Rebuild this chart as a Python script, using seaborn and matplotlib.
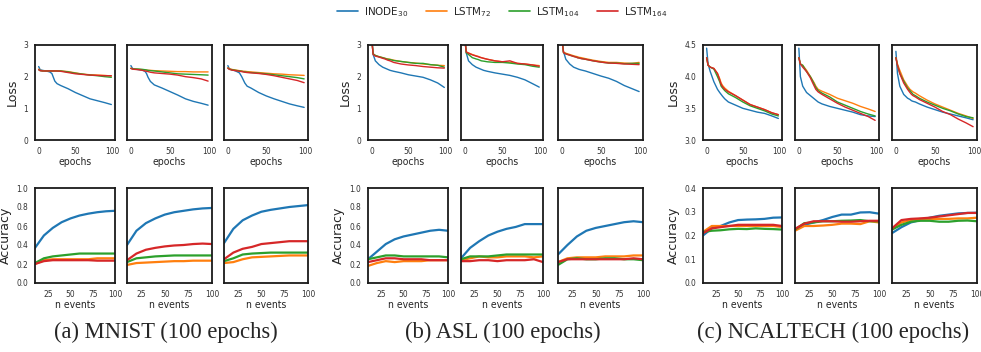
import numpy as np
import pandas as pd
import matplotlib
matplotlib.use('Agg')
import matplotlib.pyplot as plt
import seaborn as sns
sns.set_style('white')

# shared x values
epochs = [0, 2, 5, 10, 15, 18, 20, 22, 25, 30, 40, 50, 60, 70, 80, 90, 99]
n_events = [10, 20, 30, 40, 50, 60, 70, 80, 90, 100]

models = ['INODE$_{30}$', 'LSTM$_{72}$', 'LSTM$_{104}$', 'LSTM$_{164}$']
captions = ['(a) MNIST (100 epochs)', '(b) ASL (100 epochs)', '(c) NCALTECH (100 epochs)']

# ---- MNIST loss (3 runs each)
mnist_loss_inode = [
    [2.32, 2.22, 2.2, 2.18, 2.15, 2.1, 1.98, 1.86, 1.78, 1.72, 1.62, 1.5, 1.4, 1.3, 1.24, 1.18, 1.12],
    [2.35, 2.26, 2.24, 2.22, 2.2, 2.17, 2.1, 1.98, 1.85, 1.74, 1.64, 1.53, 1.42, 1.3, 1.22, 1.16, 1.1],
    [2.35, 2.24, 2.22, 2.18, 2.12, 2.0, 1.9, 1.8, 1.7, 1.64, 1.5, 1.39, 1.3, 1.22, 1.14, 1.08, 1.03]]
mnist_loss_l72 = [
    [2.24, 2.2, 2.19, 2.18, 2.18, 2.18, 2.18, 2.18, 2.18, 2.18, 2.16, 2.12, 2.08, 2.06, 2.05, 2.04, 2.02],
    [2.27, 2.25, 2.24, 2.23, 2.22, 2.22, 2.21, 2.2, 2.2, 2.19, 2.18, 2.17, 2.16, 2.16, 2.15, 2.15, 2.15],
    [2.28, 2.25, 2.23, 2.21, 2.19, 2.18, 2.17, 2.17, 2.16, 2.15, 2.13, 2.11, 2.09, 2.08, 2.06, 2.05, 2.04]]
mnist_loss_l104 = [
    [2.22, 2.19, 2.18, 2.18, 2.18, 2.18, 2.18, 2.18, 2.18, 2.18, 2.15, 2.11, 2.08, 2.05, 2.03, 2.0, 1.98],
    [2.26, 2.25, 2.24, 2.24, 2.23, 2.22, 2.21, 2.2, 2.19, 2.18, 2.15, 2.12, 2.09, 2.08, 2.07, 2.06, 2.05],
    [2.27, 2.24, 2.22, 2.2, 2.18, 2.17, 2.16, 2.15, 2.14, 2.13, 2.11, 2.09, 2.06, 2.03, 2.0, 1.97, 1.93]]
mnist_loss_l164 = [
    [2.22, 2.19, 2.18, 2.18, 2.18, 2.18, 2.18, 2.18, 2.18, 2.17, 2.13, 2.09, 2.07, 2.05, 2.04, 2.03, 2.03],
    [2.26, 2.24, 2.23, 2.22, 2.2, 2.18, 2.17, 2.16, 2.14, 2.12, 2.1, 2.08, 2.05, 2.0, 1.97, 1.93, 1.86],
    [2.27, 2.23, 2.21, 2.19, 2.17, 2.16, 2.15, 2.14, 2.13, 2.12, 2.1, 2.07, 2.03, 1.98, 1.93, 1.88, 1.81]]

# ---- ASL loss
asl_loss_inode = [
    [3.3, 2.7, 2.5, 2.38, 2.3, 2.27, 2.25, 2.23, 2.2, 2.17, 2.12, 2.06, 2.02, 1.98, 1.9, 1.8, 1.66],
    [3.3, 2.75, 2.5, 2.38, 2.3, 2.27, 2.25, 2.23, 2.2, 2.17, 2.12, 2.08, 2.04, 1.98, 1.9, 1.78, 1.67],
    [3.3, 2.8, 2.55, 2.4, 2.3, 2.27, 2.25, 2.23, 2.21, 2.18, 2.1, 2.02, 1.95, 1.85, 1.72, 1.62, 1.53]]
asl_loss_l72 = [
    [3.2, 2.72, 2.67, 2.63, 2.6, 2.58, 2.57, 2.56, 2.55, 2.52, 2.48, 2.45, 2.43, 2.4, 2.38, 2.36, 2.35],
    [3.2, 2.78, 2.75, 2.7, 2.66, 2.64, 2.62, 2.6, 2.58, 2.55, 2.5, 2.47, 2.45, 2.42, 2.4, 2.37, 2.35],
    [3.2, 2.78, 2.74, 2.7, 2.66, 2.64, 2.63, 2.61, 2.6, 2.57, 2.52, 2.48, 2.45, 2.45, 2.43, 2.42, 2.45]]
asl_loss_l104 = [
    [3.2, 2.72, 2.67, 2.63, 2.6, 2.58, 2.56, 2.55, 2.54, 2.51, 2.48, 2.45, 2.42, 2.42, 2.38, 2.36, 2.3],
    [3.2, 2.75, 2.7, 2.6, 2.56, 2.54, 2.52, 2.5, 2.49, 2.47, 2.45, 2.45, 2.43, 2.4, 2.38, 2.33, 2.3],
    [3.2, 2.76, 2.72, 2.68, 2.64, 2.62, 2.6, 2.59, 2.57, 2.55, 2.5, 2.46, 2.43, 2.43, 2.41, 2.42, 2.42]]
asl_loss_l164 = [
    [3.2, 2.7, 2.65, 2.62, 2.58, 2.56, 2.54, 2.52, 2.5, 2.45, 2.4, 2.37, 2.35, 2.32, 2.3, 2.28, 2.27],
    [3.2, 2.78, 2.74, 2.69, 2.65, 2.63, 2.61, 2.6, 2.58, 2.55, 2.5, 2.47, 2.5, 2.42, 2.4, 2.37, 2.33],
    [3.2, 2.76, 2.72, 2.68, 2.64, 2.62, 2.6, 2.59, 2.57, 2.55, 2.5, 2.46, 2.43, 2.42, 2.4, 2.39, 2.38]]

# ---- NCALTECH loss
ncal_loss_inode = [
    [4.45, 4.2, 4.08, 3.92, 3.8, 3.75, 3.72, 3.69, 3.65, 3.6, 3.55, 3.5, 3.47, 3.44, 3.42, 3.38, 3.34],
    [4.45, 4.0, 3.85, 3.75, 3.7, 3.67, 3.65, 3.63, 3.6, 3.57, 3.53, 3.5, 3.47, 3.44, 3.4, 3.38, 3.37],
    [4.4, 4.05, 3.85, 3.72, 3.66, 3.64, 3.62, 3.61, 3.6, 3.57, 3.52, 3.48, 3.44, 3.41, 3.38, 3.35, 3.32]]
ncal_loss_l72 = [
    [4.3, 4.18, 4.15, 4.13, 4.05, 3.97, 3.9, 3.86, 3.82, 3.77, 3.7, 3.63, 3.56, 3.52, 3.48, 3.43, 3.4],
    [4.3, 4.2, 4.18, 4.1, 4.0, 3.94, 3.9, 3.85, 3.8, 3.77, 3.72, 3.66, 3.62, 3.58, 3.53, 3.49, 3.45],
    [4.3, 4.2, 4.1, 3.95, 3.85, 3.8, 3.78, 3.76, 3.74, 3.7, 3.63, 3.57, 3.52, 3.47, 3.42, 3.38, 3.34]]
ncal_loss_l104 = [
    [4.3, 4.18, 4.15, 4.12, 4.0, 3.92, 3.85, 3.82, 3.78, 3.73, 3.67, 3.6, 3.54, 3.5, 3.46, 3.41, 3.38],
    [4.3, 4.2, 4.18, 4.08, 4.0, 3.93, 3.88, 3.83, 3.78, 3.74, 3.68, 3.6, 3.55, 3.5, 3.45, 3.41, 3.38],
    [4.3, 4.18, 4.05, 3.93, 3.82, 3.78, 3.75, 3.72, 3.7, 3.66, 3.6, 3.55, 3.5, 3.46, 3.41, 3.37, 3.35]]
ncal_loss_l164 = [
    [4.3, 4.18, 4.15, 4.13, 4.05, 3.95, 3.88, 3.84, 3.8, 3.76, 3.7, 3.63, 3.56, 3.52, 3.48, 3.43, 3.4],
    [4.3, 4.2, 4.15, 4.08, 3.98, 3.9, 3.85, 3.8, 3.76, 3.72, 3.65, 3.58, 3.52, 3.47, 3.42, 3.37, 3.31],
    [4.3, 4.18, 4.05, 3.9, 3.8, 3.75, 3.72, 3.7, 3.68, 3.64, 3.58, 3.52, 3.45, 3.4, 3.33, 3.27, 3.21]]

# ---- MNIST accuracy vs n events
mnist_acc_inode = [
    [0.37, 0.5, 0.58, 0.64, 0.68, 0.71, 0.73, 0.745, 0.755, 0.76],
    [0.4, 0.55, 0.63, 0.68, 0.72, 0.745, 0.76, 0.775, 0.785, 0.79],
    [0.42, 0.57, 0.66, 0.71, 0.75, 0.77, 0.785, 0.8, 0.81, 0.82]]
mnist_acc_l72 = [
    [0.2, 0.24, 0.25, 0.25, 0.25, 0.25, 0.25, 0.26, 0.26, 0.26],
    [0.19, 0.21, 0.215, 0.22, 0.225, 0.23, 0.23, 0.235, 0.235, 0.235],
    [0.21, 0.22, 0.25, 0.27, 0.275, 0.28, 0.285, 0.29, 0.29, 0.29]]
mnist_acc_l104 = [
    [0.21, 0.26, 0.28, 0.29, 0.3, 0.31, 0.31, 0.31, 0.31, 0.31],
    [0.22, 0.26, 0.27, 0.28, 0.285, 0.29, 0.29, 0.29, 0.29, 0.29],
    [0.23, 0.26, 0.3, 0.31, 0.315, 0.32, 0.32, 0.32, 0.32, 0.32]]
mnist_acc_l164 = [
    [0.2, 0.23, 0.24, 0.24, 0.24, 0.24, 0.24, 0.235, 0.235, 0.235],
    [0.24, 0.31, 0.35, 0.37, 0.385, 0.395, 0.4, 0.41, 0.415, 0.41],
    [0.25, 0.32, 0.36, 0.38, 0.41, 0.42, 0.43, 0.44, 0.44, 0.44]]

# ---- ASL accuracy
asl_acc_inode = [
    [0.25, 0.33, 0.41, 0.46, 0.49, 0.51, 0.53, 0.55, 0.56, 0.55],
    [0.26, 0.37, 0.44, 0.5, 0.54, 0.57, 0.59, 0.62, 0.62, 0.62],
    [0.3, 0.4, 0.49, 0.55, 0.58, 0.6, 0.62, 0.64, 0.65, 0.64]]
asl_acc_l72 = [
    [0.18, 0.21, 0.23, 0.22, 0.23, 0.23, 0.23, 0.24, 0.24, 0.24],
    [0.24, 0.26, 0.28, 0.27, 0.27, 0.28, 0.28, 0.28, 0.27, 0.28],
    [0.22, 0.26, 0.27, 0.27, 0.27, 0.28, 0.28, 0.28, 0.29, 0.29]]
asl_acc_l104 = [
    [0.25, 0.27, 0.29, 0.29, 0.28, 0.28, 0.28, 0.28, 0.28, 0.27],
    [0.25, 0.28, 0.28, 0.28, 0.29, 0.3, 0.3, 0.3, 0.3, 0.3],
    [0.19, 0.25, 0.26, 0.25, 0.25, 0.26, 0.26, 0.25, 0.25, 0.24]]
asl_acc_l164 = [
    [0.22, 0.24, 0.26, 0.26, 0.25, 0.25, 0.25, 0.24, 0.24, 0.24],
    [0.23, 0.23, 0.24, 0.24, 0.23, 0.24, 0.24, 0.24, 0.25, 0.22],
    [0.22, 0.25, 0.25, 0.25, 0.25, 0.25, 0.25, 0.25, 0.26, 0.25]]

# ---- NCALTECH accuracy
ncal_acc_inode = [
    [0.2, 0.23, 0.24, 0.255, 0.265, 0.267, 0.268, 0.27, 0.275, 0.276],
    [0.225, 0.245, 0.255, 0.265, 0.278, 0.288, 0.288, 0.297, 0.298, 0.292],
    [0.21, 0.235, 0.255, 0.265, 0.275, 0.283, 0.288, 0.293, 0.295, 0.296]]
ncal_acc_l72 = [
    [0.215, 0.24, 0.24, 0.24, 0.24, 0.24, 0.24, 0.24, 0.24, 0.236],
    [0.22, 0.24, 0.24, 0.242, 0.245, 0.25, 0.25, 0.248, 0.26, 0.255],
    [0.225, 0.255, 0.265, 0.27, 0.27, 0.27, 0.27, 0.272, 0.272, 0.275]]
ncal_acc_l104 = [
    [0.215, 0.22, 0.222, 0.226, 0.228, 0.227, 0.23, 0.228, 0.227, 0.225],
    [0.225, 0.252, 0.255, 0.26, 0.26, 0.262, 0.263, 0.265, 0.26, 0.26],
    [0.225, 0.245, 0.258, 0.262, 0.262, 0.258, 0.258, 0.262, 0.263, 0.26]]
ncal_acc_l164 = [
    [0.21, 0.23, 0.235, 0.24, 0.245, 0.245, 0.245, 0.245, 0.245, 0.24],
    [0.228, 0.25, 0.26, 0.26, 0.26, 0.258, 0.258, 0.26, 0.262, 0.262],
    [0.23, 0.265, 0.27, 0.272, 0.275, 0.28, 0.285, 0.29, 0.295, 0.295]]

loss_sets = [
    [mnist_loss_inode, mnist_loss_l72, mnist_loss_l104, mnist_loss_l164],
    [asl_loss_inode, asl_loss_l72, asl_loss_l104, asl_loss_l164],
    [ncal_loss_inode, ncal_loss_l72, ncal_loss_l104, ncal_loss_l164]]
acc_sets = [
    [mnist_acc_inode, mnist_acc_l72, mnist_acc_l104, mnist_acc_l164],
    [asl_acc_inode, asl_acc_l72, asl_acc_l104, asl_acc_l164],
    [ncal_acc_inode, ncal_acc_l72, ncal_acc_l104, ncal_acc_l164]]

loss_ylims = [(0, 3), (0, 3), (3.0, 4.5)]
loss_yticks = [[0, 1, 2, 3], [0, 1, 2, 3], [3.0, 3.5, 4.0, 4.5]]
loss_ylabels = [['0', '1', '2', '3'], ['0', '1', '2', '3'], ['3.0', '3.5', '4.0', '4.5']]
acc_ylims = [(0, 1.0), (0, 1.0), (0, 0.4)]
acc_yticks = [[0, 0.2, 0.4, 0.6, 0.8, 1.0], [0, 0.2, 0.4, 0.6, 0.8, 1.0], [0, 0.1, 0.2, 0.3, 0.4]]

colors = sns.color_palette('tab10')[:4]

W, H = 981, 352
fig = plt.figure(figsize=(W / 100, H / 100), dpi=100)

# panel pixel boxes (left, right) per group
panel_x = [[(35, 115), (127, 212), (224, 308)],
           [(368, 448), (461, 543), (558, 643)],
           [(703, 782), (795, 879), (892, 977)]]
rows_y = [(45, 140), (188, 283)]
caption_x = [166, 503, 833]


def make_ax(x0, x1, y0, y1):
    ax = fig.add_axes([x0 / W, 1 - y1 / H, (x1 - x0) / W, (y1 - y0) / H])
    for s in ax.spines.values():
        s.set_color('0.1')
        s.set_linewidth(1.3)
    return ax


def style_ticks(ax):
    ax.tick_params(labelsize=6, pad=1.5)
    for lab in ax.get_xticklabels() + ax.get_yticklabels():
        lab.set_fontstretch('condensed')
        lab.set_color('0.2')


for g in range(3):
    for k, (x0, x1) in enumerate(panel_x[g]):
        # loss row
        ax = make_ax(x0, x1, *rows_y[0])
        for m in range(4):
            sns.lineplot(x=epochs, y=loss_sets[g][m][k], ax=ax, color=colors[m], lw=1.0)
        ax.set_xlim(-5, 104)
        ax.set_ylim(*loss_ylims[g])
        ax.set_xticks([0, 50, 100])
        ax.set_yticks(loss_yticks[g])
        ax.set_xlabel('epochs', fontsize=7.5, fontstretch='condensed', labelpad=1)
        if k == 0:
            ax.set_yticklabels(loss_ylabels[g])
            ax.set_ylabel('Loss', fontsize=9, labelpad=3)
        else:
            ax.set_yticklabels([])
        style_ticks(ax)

        # accuracy row
        ax = make_ax(x0, x1, *rows_y[1])
        for m in range(4):
            sns.lineplot(x=n_events, y=acc_sets[g][m][k], ax=ax, color=colors[m], lw=1.6)
        ax.set_xlim(10, 100)
        ax.set_ylim(*acc_ylims[g])
        ax.set_xticks([25, 50, 75, 100])
        ax.set_yticks(acc_yticks[g])
        ax.set_xlabel('n events', fontsize=7.5, fontstretch='condensed', labelpad=1)
        if k == 0:
            ax.set_yticklabels(['%.1f' % v for v in acc_yticks[g]])
            ax.set_ylabel('Accuracy', fontsize=9, labelpad=3)
        else:
            ax.set_yticklabels([])
        style_ticks(ax)

    fig.text(caption_x[g] / W, 1 - 332 / H, captions[g], ha='center', va='center',
             fontsize=16.3, family='Liberation Serif')

handles = [plt.Line2D([], [], color=c, lw=1.2) for c in colors]
fig.legend(handles, models, loc='center', bbox_to_anchor=(502 / W, 1 - 12 / H),
           ncol=4, frameon=False, fontsize=7.5, handlelength=2.0,
           handletextpad=0.6, columnspacing=1.7)

fig.savefig('out.png', dpi=100)
